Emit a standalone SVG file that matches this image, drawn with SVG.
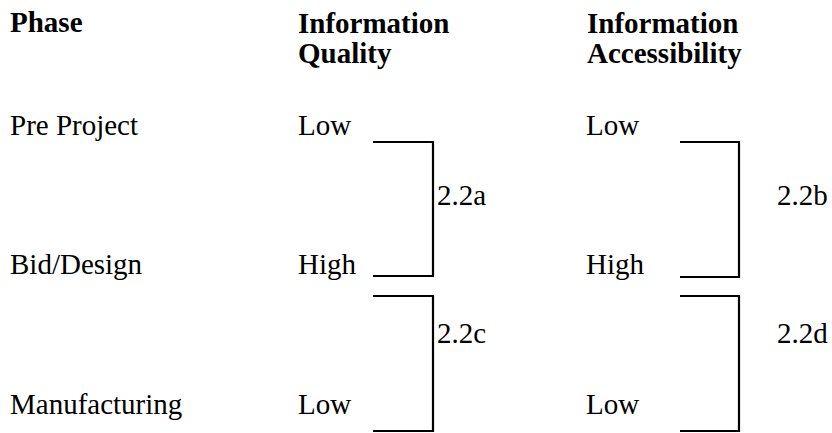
<svg xmlns="http://www.w3.org/2000/svg" width="832" height="433" viewBox="0 0 832 433">
<style>
text{font-family:"Liberation Serif","Times New Roman",serif;font-size:29px;fill:#000}
.h{font-weight:bold}
.b{fill:none;stroke:#000;stroke-width:2.2}
</style>
<rect width="832" height="433" fill="#fff"/>
<g id="header">
<text class="h" x="10" y="32">Phase</text>
<text class="h" x="298" y="33">Information</text>
<text class="h" x="298" y="63">Quality</text>
<text class="h" x="587" y="33">Information</text>
<text class="h" x="587" y="63">Accessibility</text>
</g>
<g id="pre-project">
<text x="10" y="135">Pre Project</text>
<text x="298" y="135">Low</text>
<text x="586" y="135">Low</text>
</g>
<g id="bid-design">
<text x="10" y="274">Bid/Design</text>
<text x="298" y="274">High</text>
<text x="586" y="274">High</text>
</g>
<g id="manufacturing">
<text x="10" y="414">Manufacturing</text>
<text x="298" y="414">Low</text>
<text x="586" y="414">Low</text>
</g>
<g id="connectors">
<path class="b" d="M373 142H433V276H373"/>
<path class="b" d="M373 296H433V431H373"/>
<path class="b" d="M680 142H739V277H680"/>
<path class="b" d="M680 296H739V431H680"/>
<text x="437" y="205">2.2a</text>
<text x="777" y="205">2.2b</text>
<text x="437" y="343">2.2c</text>
<text x="777" y="343">2.2d</text>
</g>
</svg>
